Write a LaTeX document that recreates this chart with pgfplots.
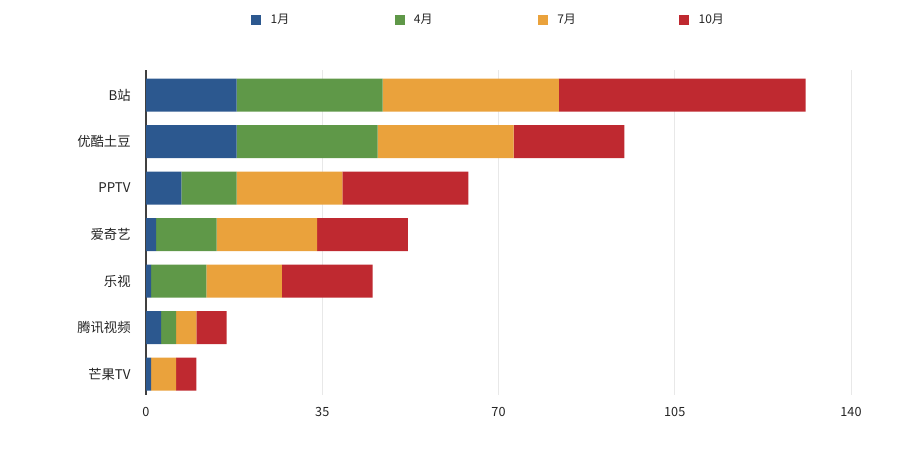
\documentclass[border=0pt]{standalone}
\usepackage{pgfplots}
\pgfplotsset{compat=1.18}
\usepackage{fontspec}
\setmainfont{Noto Sans CJK SC}
\definecolor{cBlue}{RGB}{44,88,143}
\definecolor{cGreen}{RGB}{95,152,72}
\definecolor{cOrange}{RGB}{234,162,60}
\definecolor{cRed}{RGB}{191,41,48}
\definecolor{txt}{RGB}{35,35,35}
\begin{document}
\begin{tikzpicture}
\path[use as bounding box] (0,0) rectangle (686.25pt,337.5pt);
\begin{axis}[
  at={(109.5pt,41.25pt)}, anchor=south west,
  scale only axis,
  width=528.75pt, height=243.75pt,
  xbar stacked,
  bar width=24.75pt,
  xmin=0, xmax=140,
  ymin=-0.45, ymax=6.54,
  xtick={0,35,70,105,140},
  ytick={0,1,2,3,4,5,6},
  yticklabels={芒果TV,腾讯视频,乐视,爱奇艺,PPTV,优酷土豆,B站},
  axis y line*=left,
  axis x line*=bottom,
  x axis line style={draw=none},
  y axis line style={draw=black!75, line width=0.8pt},
  major tick length=0pt,
  xmajorgrids,
  grid style={gray!18, line width=0.6pt},
  tick label style={font=\fontsize{9.5}{11}\selectfont, text=txt},
  /pgf/number format/assume math mode=true,
  xticklabel style={yshift=-6pt},
  yticklabel style={xshift=-8pt, font=\fontsize{10}{12}\selectfont},
  legend columns=4,
  legend style={at={(0.149,1.154)}, anchor=west, draw=none, fill=none,
    inner sep=0pt, font=\fontsize{9}{11}\selectfont, text=txt,
    /tikz/every odd column/.append style={column sep=5pt},
    /tikz/every even column/.append style={column sep=4pt}},
  legend image code/.code={\fill[#1] (0pt,-3.75pt) rectangle (7.5pt,3.75pt);},
]
\addplot[fill=cBlue, draw=none] coordinates {(1,0) (3,1) (1,2) (2,3) (7,4) (18,5) (18,6)};
\addplot[fill=cGreen, draw=none] coordinates {(0,0) (3,1) (11,2) (12,3) (11,4) (28,5) (29,6)};
\addplot[fill=cOrange, draw=none] coordinates {(5,0) (4,1) (15,2) (20,3) (21,4) (27,5) (35,6)};
\addplot[fill=cRed, draw=none] coordinates {(4,0) (6,1) (18,2) (18,3) (25,4) (22,5) (49,6)};
\legend{\makebox[87pt][l]{1月},\makebox[87pt][l]{4月},\makebox[85.5pt][l]{7月},\makebox[20pt][l]{10月}}
\end{axis}
\end{tikzpicture}
\end{document}
